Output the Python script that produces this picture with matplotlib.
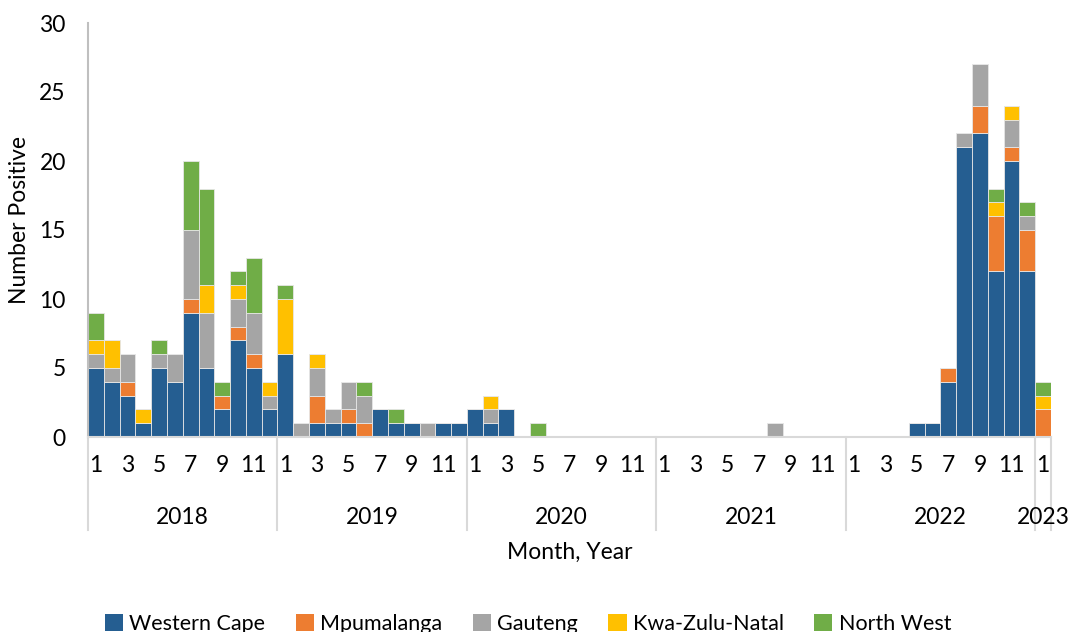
import matplotlib.pyplot as plt
import matplotlib.transforms as mtransforms
from matplotlib.patches import Patch
import numpy as np

plt.rcParams['font.family'] = ['Lato', 'DejaVu Sans']

# monthly counts, Jan 2018 .. Jan 2023
years = ['2018', '2019', '2020', '2021', '2022', '2023']
months_per_year = [12, 12, 12, 12, 12, 1]

western_cape = [5, 4, 3, 1, 5, 4, 9, 5, 2, 7, 5, 2,
                6, 0, 1, 1, 1, 0, 2, 1, 1, 0, 1, 1,
                2, 1, 2, 0, 0, 0, 0, 0, 0, 0, 0, 0,
                0, 0, 0, 0, 0, 0, 0, 0, 0, 0, 0, 0,
                0, 0, 0, 0, 1, 1, 4, 21, 22, 12, 20, 12,
                0]
mpumalanga = [0, 0, 1, 0, 0, 0, 1, 0, 1, 1, 1, 0,
              0, 0, 2, 0, 1, 1, 0, 0, 0, 0, 0, 0,
              0, 0, 0, 0, 0, 0, 0, 0, 0, 0, 0, 0,
              0, 0, 0, 0, 0, 0, 0, 0, 0, 0, 0, 0,
              0, 0, 0, 0, 0, 0, 1, 0, 2, 4, 1, 3,
              2]
gauteng = [1, 1, 2, 0, 1, 2, 5, 4, 0, 2, 3, 1,
           0, 1, 2, 1, 2, 2, 0, 0, 0, 1, 0, 0,
           0, 1, 0, 0, 0, 0, 0, 0, 0, 0, 0, 0,
           0, 0, 0, 0, 0, 0, 0, 1, 0, 0, 0, 0,
           0, 0, 0, 0, 0, 0, 0, 1, 3, 0, 2, 1,
           0]
kzn = [1, 2, 0, 1, 0, 0, 0, 2, 0, 1, 0, 1,
       4, 0, 1, 0, 0, 0, 0, 0, 0, 0, 0, 0,
       0, 1, 0, 0, 0, 0, 0, 0, 0, 0, 0, 0,
       0, 0, 0, 0, 0, 0, 0, 0, 0, 0, 0, 0,
       0, 0, 0, 0, 0, 0, 0, 0, 0, 1, 1, 0,
       1]
north_west = [2, 0, 0, 0, 1, 0, 5, 7, 1, 1, 4, 0,
              1, 0, 0, 0, 0, 1, 0, 1, 0, 0, 0, 0,
              0, 0, 0, 0, 1, 0, 0, 0, 0, 0, 0, 0,
              0, 0, 0, 0, 0, 0, 0, 0, 0, 0, 0, 0,
              0, 0, 0, 0, 0, 0, 0, 0, 0, 1, 0, 1,
              1]

series = [('Western Cape', western_cape, '#255E91'),
          ('Mpumalanga', mpumalanga, '#ED7D31'),
          ('Gauteng', gauteng, '#A5A5A5'),
          ('Kwa-Zulu-Natal', kzn, '#FFC000'),
          ('North West', north_west, '#70AD47')]

W, H = 1072, 632
fs = 16.5
fig = plt.figure(figsize=(W / 100, H / 100), dpi=100)
ax = fig.add_axes([88 / W, (H - 437) / H, (1051 - 88) / W, (437 - 23) / H])

n = len(western_cape)
x = np.arange(n)
bottom = np.zeros(n)
for name, vals, col in series:
    v = np.array(vals, dtype=float)
    ax.bar(x, v, width=1.0, bottom=bottom, color=col, edgecolor='#E6E6E6',
           linewidth=0.6, label=name)
    bottom += v

ax.set_xlim(-0.5, n - 0.5)
ax.set_ylim(0, 30)
ax.set_yticks(range(0, 31, 5))
ax.tick_params(axis='y', length=0, labelsize=fs, pad=16)
ax.set_xticks([])
for s in ['top', 'right']:
    ax.spines[s].set_visible(False)
ax.spines['left'].set_color('#BFBFBF')
ax.spines['left'].set_linewidth(1.5)
ax.spines['bottom'].set_color('#D9D9D9')
ax.spines['bottom'].set_linewidth(1.5)

# two-level category axis: odd months, then years with separators
trans = mtransforms.blended_transform_factory(ax.transData, ax.transAxes)
sep_bottom = -(530 - 437) / 414
start = 0
for yr, nm in zip(years, months_per_year):
    for m in range(1, nm + 1, 2):
        ax.text(start + m - 1, -(466 - 437) / 414, str(m), transform=trans,
                ha='center', va='center', fontsize=fs)
    ax.text(start + (nm - 1) / 2, -(517 - 437) / 414, yr, transform=trans,
            ha='center', va='center', fontsize=fs)
    ax.plot([start - 0.5, start - 0.5], [0, sep_bottom], transform=trans,
            color='#D9D9D9', lw=1.5, clip_on=False)
    start += nm
ax.plot([start - 0.5, start - 0.5], [0, sep_bottom], transform=trans,
        color='#D9D9D9', lw=1.5, clip_on=False)

fig.text(570 / W, 1 - 552 / H, 'Month, Year', ha='center', va='center', fontsize=fs)
fig.text(20 / W, 1 - 220 / H, 'Number Positive', ha='center', va='center',
         rotation=90, fontsize=fs)

handles = [Patch(facecolor=c, edgecolor='none', label=nm) for nm, _, c in series]
fig.legend(handles=handles, loc='center', bbox_to_anchor=(528 / W, 1 - 624 / H),
           ncol=5, frameon=False, fontsize=15.5, handlelength=0.85, handleheight=0.85,
           handletextpad=0.3, columnspacing=1.4)

fig.savefig('out.png', dpi=100)
